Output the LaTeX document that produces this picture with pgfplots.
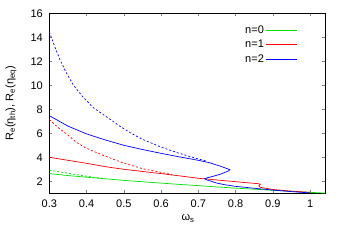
\documentclass[border=0pt]{standalone}
\usepackage{pgfplots}
\pgfplotsset{compat=1.18}
\usepackage{fontspec}
\setmainfont{Liberation Sans}
\definecolor{cgreen}{RGB}{0,225,0}
\definecolor{cred}{RGB}{255,0,0}
\definecolor{cblue}{RGB}{0,0,255}
\begin{document}
\begin{tikzpicture}[font=\fontsize{11}{13}\selectfont]
\path[use as bounding box] (0,0) rectangle (346pt,242pt);
\begin{axis}[
  at={(49.3pt,48.7pt)}, anchor=south west,
  width=275.7pt, height=180pt, scale only axis,
  xmin=0.3, xmax=1.04, ymin=1, ymax=16,
  xtick={0.3,0.4,0.5,0.6,0.7,0.8,0.9,1},
  xticklabels={0.3,0.4,0.5,0.6,0.7,0.8,0.9,1},
  ytick={2,4,6,8,10,12,14,16},
  tick align=inside, major tick length=3pt,
  /pgf/number format/assume math mode=true,
  xticklabel style={yshift=-3pt},
  yticklabel style={xshift=-3pt},
  xlabel={ω\textsubscript{s}},
  ylabel={R\textsubscript{e}(η\textsubscript{th}), R\textsubscript{e}(η\textsubscript{eq})},
  xlabel style={at={(axis description cs:0.503,-0.139)}, anchor=center},
  ylabel style={at={(axis description cs:-0.139,0.5)}, anchor=center},
  legend style={draw=none, fill=none, at={(axis description cs:0.913,0.952)}, anchor=north east, row sep=1pt},
  legend plot pos=right, legend cell align=right,
  legend image code/.code={\draw[#1, line width=0.9pt] plot coordinates {(0pt,0pt) (31pt,0pt)};},
  every axis plot/.append style={line width=0.7pt},
]
% n=0 solid
\addplot[color=cgreen] coordinates {(0.30,2.64) (0.35,2.48) (0.40,2.34) (0.45,2.21) (0.50,2.08) (0.55,1.96) (0.60,1.85) (0.65,1.74) (0.70,1.64) (0.75,1.53) (0.80,1.43) (0.85,1.34) (0.90,1.25) (0.95,1.16) (1.00,1.08) (1.04,1.02)};
\addlegendentry{n=0}
% n=1 solid
\addplot[color=cred] coordinates {(0.30,4.00) (0.35,3.75) (0.40,3.50) (0.45,3.22) (0.50,3.00) (0.55,2.82) (0.60,2.64) (0.65,2.45) (0.70,2.25) (0.72,2.20) (0.76,2.08) (0.80,1.97) (0.83,1.88) (0.862,1.80) (0.866,1.74) (0.862,1.62) (0.866,1.50) (0.90,1.32) (0.95,1.18) (1.00,1.08)};
\addlegendentry{n=1}
% n=2 solid
\addplot[color=cblue] coordinates {(0.30,7.47) (0.35,6.60) (0.40,5.95) (0.45,5.45) (0.50,5.00) (0.55,4.65) (0.60,4.33) (0.65,4.03) (0.70,3.75) (0.73,3.55) (0.76,3.25) (0.775,3.08) (0.785,2.97) (0.78,2.85) (0.76,2.60) (0.74,2.42) (0.725,2.30) (0.717,2.22) (0.72,2.15) (0.735,2.00) (0.75,1.85) (0.77,1.72) (0.80,1.58) (0.85,1.42) (0.90,1.27) (0.95,1.14) (1.00,1.03)};
\addlegendentry{n=2}
% dashed
\addplot[color=cgreen, dash pattern=on 2pt off 2pt, forget plot] coordinates {(0.30,2.92) (0.33,2.78) (0.36,2.62) (0.39,2.47) (0.42,2.33) (0.45,2.22)};
\addplot[color=cred, dash pattern=on 2pt off 2pt, forget plot] coordinates {(0.30,7.15) (0.325,6.45) (0.35,5.85) (0.375,5.20) (0.40,4.75) (0.425,4.42) (0.45,4.10) (0.475,3.80) (0.50,3.52) (0.55,3.05) (0.60,2.75) (0.63,2.55)};
\addplot[color=cblue, dash pattern=on 2pt off 2pt, forget plot] coordinates {(0.30,14.45) (0.315,13.20) (0.329,12.10) (0.347,10.97) (0.365,10.00) (0.391,9.00) (0.418,8.14) (0.454,7.36) (0.49,6.58) (0.52,6.00) (0.55,5.50) (0.60,4.85) (0.65,4.32) (0.70,3.86) (0.72,3.70)};
\end{axis}
\end{tikzpicture}
\end{document}
